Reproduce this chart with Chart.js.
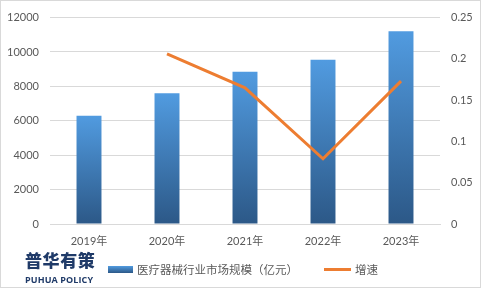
<!DOCTYPE html>
<html>
<head>
<meta charset="utf-8">
<script src="https://cdn.jsdelivr.net/npm/chart.js@4"></script>
<style>
  html, body { margin: 0; padding: 0; background: #fff; }
  #wrap { position: relative; width: 481px; height: 288px; overflow: hidden; }
  #wrap canvas { position: absolute; left: 0; top: 0; }
  .frame { position: absolute; left: 0; top: 0; width: 481px; height: 288px; box-sizing: border-box; border: 1px solid #D9D9D9; pointer-events: none; }
  .logo { position: absolute; left: 25px; top: 250px; color: #1F3A68; font-family: "Noto Sans CJK SC", sans-serif; font-weight: 900; font-size: 17px; letter-spacing: 0.6px; line-height: 20px; }
  .logo-en { position: absolute; left: 25px; top: 274px; color: #1F3A68; font-family: "Open Sans", sans-serif; font-weight: 700; font-size: 9px; line-height: 12px; letter-spacing: 0.1px; }
  .lg { position: absolute; font-family: "Noto Sans CJK SC", sans-serif; font-size: 11.5px; color: #595959; line-height: 14px; top: 262px; }
  .sw-bar { position: absolute; left: 108px; top: 266px; width: 25px; height: 7px; background: linear-gradient(#519BE0, #2C5887); }
  .sw-line { position: absolute; left: 324px; top: 268px; width: 27px; height: 3px; background: #ED7D31; }
</style>
</head>
<body>
<div id="wrap">
  <canvas id="chart" width="481" height="288"></canvas>
  <div class="logo">普华有策</div>
  <div class="logo-en">PUHUA POLICY</div>
  <div class="sw-bar"></div>
  <div class="lg" style="left:137px">医疗器械行业市场规模（亿元）</div>
  <div class="sw-line"></div>
  <div class="lg" style="left:355px">增速</div>
  <div class="frame"></div>
</div>
<script>
const years = ['2019年', '2020年', '2021年', '2022年', '2023年'];
const marketSize = [6300, 7600, 8850, 9550, 11200];
const growthRate = [null, 0.206, 0.165, 0.079, 0.173];
const leftTicks = [0, 2000, 4000, 6000, 8000, 10000, 12000];
const rightTicks = [0, 0.05, 0.1, 0.15, 0.2, 0.25];

const tickFont = { family: 'Lato, "Noto Sans CJK SC", sans-serif', size: 11 };
const tickColor = '#595959';

function barGradient(context) {
  const chart = context.chart;
  const y = chart.scales.y;
  if (!chart.chartArea || !y || context.raw == null) return '#4A8ED2';
  const top = y.getPixelForValue(context.raw);
  const bottom = y.getPixelForValue(0);
  if (!isFinite(top) || !isFinite(bottom) || top === bottom) return '#4A8ED2';
  const g = chart.ctx.createLinearGradient(0, top, 0, bottom);
  g.addColorStop(0, '#519BE0');
  g.addColorStop(1, '#2C5887');
  return g;
}

new Chart(document.getElementById('chart').getContext('2d'), {
  data: {
    labels: years,
    datasets: [{
      type: 'line',
      label: '增速',
      data: growthRate,
      yAxisID: 'y1',
      borderColor: '#ED7D31',
      backgroundColor: '#ED7D31',
      borderWidth: 3,
      pointRadius: 0,
      tension: 0,
      spanGaps: false,
      order: 0
    }, {
      type: 'bar',
      label: '医疗器械行业市场规模（亿元）',
      data: marketSize,
      yAxisID: 'y',
      backgroundColor: barGradient,
      borderWidth: 0,
      barPercentage: 0.32,
      categoryPercentage: 1,
      order: 1
    }]
  },
  options: {
    responsive: false,
    animation: false,
    layout: { padding: { top: 14, left: 0, right: 0, bottom: 0 } },
    plugins: {
      legend: { display: false },
      tooltip: { enabled: false }
    },
    scales: {
      x: {
        grid: { display: false, drawTicks: false },
        border: { display: true, color: '#D9D9D9', width: 1 },
        ticks: { font: tickFont, color: tickColor, padding: 11, maxRotation: 0 },
        afterFit: s => { s.height = 64; }
      },
      y: {
        position: 'left',
        min: 0, max: 12000,
        afterBuildTicks: s => { s.ticks = leftTicks.map(v => ({ value: v })); },
        grid: { color: '#D9D9D9', drawTicks: false },
        border: { display: false },
        ticks: { font: tickFont, color: tickColor, padding: 11, callback: v => String(v) },
        afterFit: s => { s.width = 50; }
      },
      y1: {
        position: 'right',
        min: 0, max: 0.25,
        afterBuildTicks: s => { s.ticks = rightTicks.map(v => ({ value: v })); },
        grid: { display: false, drawTicks: false },
        border: { display: false },
        ticks: { font: tickFont, color: tickColor, padding: 11, callback: v => String(+v.toFixed(2)) },
        afterFit: s => { s.width = 41; }
      }
    }
  }
});
</script>
</body>
</html>
